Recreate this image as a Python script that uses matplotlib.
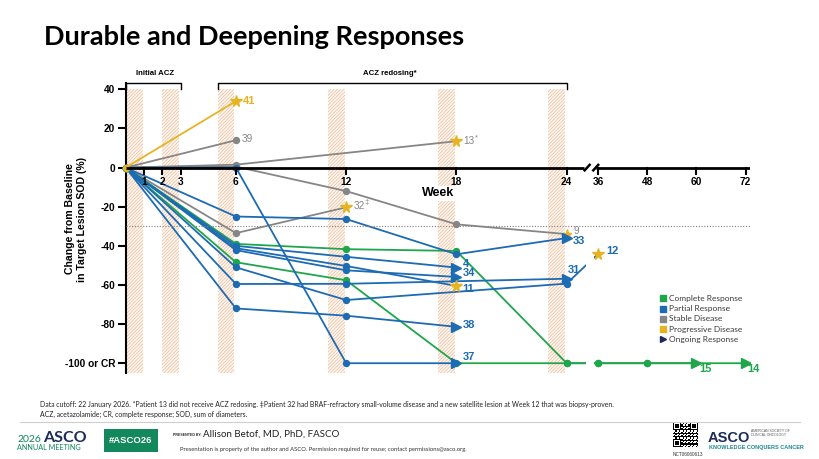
import numpy as np
import matplotlib.pyplot as plt
from matplotlib.patches import Rectangle
from matplotlib.lines import Line2D

plt.rcParams['hatch.linewidth'] = 0.55
plt.rcParams['font.family'] = ['Liberation Sans', 'DejaVu Sans']

W, H = 820, 459

GREEN = '#1ea64b'
BLUE = '#1c6bb3'
GRAY = '#868686'
GOLD = '#e6b422'
NAVY = '#1c2b5a'
ASCO_GREEN = '#12885c'

# week of assessment / % change from baseline in target lesion SOD (-100 = CR)
wk_41, chg_41 = [0, 6], [0, 34]
wk_39, chg_39 = [0, 6], [0, 14]
wk_13, chg_13 = [0, 6, 18], [0, 1.5, 13.5]
wk_32, chg_32 = [0, 6, 12], [0, -33.5, -20.3]
wk_9, chg_9 = [0, 6, 12, 18, 24], [0, 0.5, -12, -29, -34]
wk_33, chg_33 = [0, 6, 12, 18, 24], [0, -25, -26.3, -44.3, -36]
wk_4, chg_4 = [0, 6, 12, 18], [0, -40, -45.6, -51.1]
wk_11, chg_11 = [0, 6, 12, 18], [0, -41.2, -50.3, -60.5]
wk_34, chg_34 = [0, 6, 12, 18], [0, -42.2, -52.5, -55.9]
wk_31, chg_31 = [0, 6, 12, 24], [0, -59.5, -59.4, -56.8]
wk_12, chg_12 = [0, 6, 12, 24, 36], [0, -51, -67.7, -59.3, -44]
wk_38, chg_38 = [0, 6, 12, 18], [0, -72, -75.7, -81.4]
wk_37, chg_37 = [0, 6, 12, 18], [0, 0, -100, -100]
wk_14, chg_14 = [0, 6, 12, 18, 24, 36, 48, 72], [0, -48.4, -57.6, -100, -100, -100, -100, -100]
wk_15, chg_15 = [0, 6, 12, 18, 24, 36, 48, 60], [0, -39, -41.7, -42.6, -100, -100, -100, -100]

week_ticks = [1, 2, 3, 6, 12, 18, 24, 36, 48, 60, 72]
y_ticks = [40, 20, 0, -20, -40, -60, -80, -100]
y_ticklabels = ['40', '20', '0', '-20', '-40', '-60', '-80', '-100 or CR']
dosing_weeks = [(0, 1), (2, 3), (5, 6), (11, 12), (17, 18), (23, 24)]

legend_labels = ['Complete Response', 'Partial Response', 'Stable Disease',
                 'Progressive Disease', 'Ongoing Response']
legend_colors = [GREEN, BLUE, GRAY, GOLD, NAVY]
legend_markers = ['s', 's', 's', 's', '>']


def wpos(w):
    # broken x axis: linear to week 24, compressed after the break
    w = np.asarray(w, float)
    return np.where(w <= 24, w, 25.72 + (w - 36) * 0.2228)


def fx(x):
    return x / W


def fy(y):
    return 1 - y / H


fig = plt.figure(figsize=(W / 100, H / 100), dpi=100)
ax = fig.add_axes([fx(125.7), fy(373), (750 - 125.7) / W, (373 - 83.3) / H])
ax.set_xlim(0, 33.98)
ax.set_ylim(-105, 43.1)

for s, e in dosing_weeks:
    ax.add_patch(Rectangle((max(s, 0.05), -104.8), e - 0.08 - max(s, 0.05), 144.8,
                           facecolor='#fffaf6', edgecolor='#f2bc98', hatch='/' * 10,
                           lw=0, zorder=1))

ax.axhline(-30, color='#8c7f78', ls=(0, (1, 1.5)), lw=0.8, zorder=7)

# break of the axis
ax.axvspan(25.05, 25.49, color='white', lw=0, zorder=6)
ax.plot([0, 24.95], [0, 0], color='black', lw=2, zorder=7, solid_capstyle='butt')
ax.plot([25.6, 33.98], [0, 0], color='black', lw=2, zorder=7, solid_capstyle='butt')
for b in [24.98, 25.45]:
    ax.plot([b, b + 0.27], [-1.4, 1.4], color='black', lw=1.8, zorder=7)

for t in week_ticks:
    p = float(wpos(t))
    ax.plot([p, p], [0, -3.3], color='black', lw=1.5, zorder=7, clip_on=False)
    ax.text(p, -7.6, str(t), ha='center', va='center', fontsize=7.3,
            fontweight='bold', zorder=8)

ax.text(17.0, -13.1, 'Week', ha='center', va='center', fontsize=9, fontweight='bold',
        zorder=8, bbox=dict(facecolor='white', edgecolor='none', pad=1.2))

patients = [
    ('39', wk_39, chg_39, GRAY, 'o', (6, -1)),
    ('13*', wk_13, chg_13, GRAY, '*', (7, 0)),
    ('32‡', wk_32, chg_32, GRAY, '*', (7, -1)),
    ('9', wk_9, chg_9, GRAY, '*', (7, -3)),
    ('15', wk_15, chg_15, GREEN, '>', (3, 6)),
    ('14', wk_14, chg_14, GREEN, '>', (1.5, 6)),
    ('33', wk_33, chg_33, BLUE, '>', (6, 3)),
    ('4', wk_4, chg_4, BLUE, '>', (6, -3.5)),
    ('11', wk_11, chg_11, BLUE, '*', (6, 3.5)),
    ('34', wk_34, chg_34, BLUE, '>', (6, -3.5)),
    ('31', wk_31, chg_31, BLUE, '>', (1.5, -9)),
    ('12', wk_12, chg_12, BLUE, '*', (8, -2.5)),
    ('38', wk_38, chg_38, BLUE, '>', (6, -2)),
    ('37', wk_37, chg_37, BLUE, '>', (6, -6)),
    ('41', wk_41, chg_41, GOLD, '*', (7, 0)),
]

for i, (lab, wk, chg, col, end, off) in enumerate(patients):
    xs = wpos(wk)
    z = 4 + i * 0.05
    ax.plot(xs, chg, color=col, lw=1.3, zorder=z, clip_on=False)
    ax.plot(xs[:-1], chg[:-1], ls='none', marker='o', ms=4.3, color=col, zorder=z,
            clip_on=False)
    if end == '*':
        ax.plot(xs[-1], chg[-1], marker='*', ms=8.5 if lab != '9' else 6.5, color=GOLD,
                ls='none', zorder=8 if lab != '9' else z)
    elif end == '>':
        ax.plot(xs[-1], chg[-1], marker='>', ms=7, color=col, ls='none', zorder=z + 0.01)
    else:
        ax.plot(xs[-1], chg[-1], marker='o', ms=4.3, color=col, ls='none', zorder=z)
    bold = col != GRAY
    name = lab.rstrip('*‡')
    ax.annotate(name, (xs[-1], chg[-1]), xytext=(off[0] * 0.72, -off[1] * 0.72),
                textcoords='offset points', ha='left', va='center',
                fontsize=8 if bold else 7.2, fontweight='bold' if bold else 'normal',
                color=col, zorder=9)
    if lab != name:
        ax.annotate(lab[len(name):], (xs[-1], chg[-1]),
                    xytext=((off[0] + 5.6 * len(name) + 0.5) * 0.72, (-off[1] + 3.5) * 0.72),
                    textcoords='offset points', ha='left', va='center', fontsize=5.5,
                    color=col, zorder=9)

ax.set_yticks(y_ticks)
ax.set_yticklabels(y_ticklabels, fontsize=7.3, fontweight='bold')
ax.set_xticks([])
ax.tick_params(axis='y', length=6, width=1.5, pad=1.5)
for s in ['top', 'right', 'bottom']:
    ax.spines[s].set_visible(False)
ax.spines['left'].set_linewidth(1.5)
ax.set_ylabel('Change from Baseline\nin Target Lesion SOD (%)', fontsize=7.6,
              fontweight='bold', labelpad=0)
ax.yaxis.set_label_coords((87 - 125.7) / (750 - 125.7), (373 - 219) / (373 - 83.3))

# dosing brackets
for a, b, lab in [(0, 3, 'Initial ACZ'), (5, 24, 'ACZ redosing*')]:
    ax.plot([a, a, b, b], [40, 43.1, 43.1, 40], color='black', lw=1, clip_on=False,
            zorder=8)
    ax.text((a + b) / 2 + (0.1 if a == 0 else -0.1), 47.9, lab, ha='center', va='center',
            fontsize=5.6, fontweight='bold', clip_on=False)

# legend
for i, (lab, col, mk) in enumerate(zip(legend_labels, legend_colors, legend_markers)):
    y = 298.3 + i * 10.25
    fig.add_artist(Line2D([fx(663)], [fy(y)], marker=mk, color=col, ms=4.2 if mk == 's' else 5,
                          ls='none'))
    fig.text(fx(669.5), fy(y), lab, va='center', fontsize=6, color='#3a3a3a', family='Lato')

# title
fig.text(fx(44), fy(45), 'Durable and Deepening Responses', fontsize=19.5,
         fontweight='bold', family='Lato', va='baseline')

# footnotes
fig.text(fx(40), fy(404), 'Data cutoff: 22 January 2026. *Patient 13 did not receive ACZ '
         'redosing. \u2021Patient 32 had BRAF-refractory small-volume disease and a new '
         'satellite lesion at Week 12 that was biopsy-proven.',
         fontsize=4.95, family=['Lato', 'DejaVu Sans'], va='center', color='#222222')
fig.text(fx(40), fy(414.5), 'ACZ, acetazolamide; CR, complete response; SOD, sum of diameters.',
         fontsize=4.95, family='Lato', va='center', color='#222222')
fig.add_artist(Line2D([fx(20), fx(800)], [fy(422), fy(422)], color='#cfcfcf', lw=0.8))

# footer branding
fig.text(fx(17), fy(442), '2026', fontsize=7.5, color=ASCO_GREEN, family='Lato',
         va='baseline')
fig.text(fx(43), fy(442), 'ASCO', fontsize=11.5, color=NAVY, family='Lato', fontweight='bold',
         va='baseline')
fig.text(fx(17), fy(448), 'ANNUAL MEETING', fontsize=5.2, color=ASCO_GREEN, family='Lato',
         va='center')
fig.add_artist(Rectangle((fx(104), fy(452)), 54 / W, 23 / H, facecolor=ASCO_GREEN,
                         edgecolor='none'))
fig.text(fx(131), fy(440.5), '#ASCO26', fontsize=6.8, color='white', fontweight='bold',
         ha='center', va='center')
fig.text(fx(173), fy(435), 'PRESENTED BY:', fontsize=2.5, fontweight='bold', va='center',
         color='#222222')
fig.text(fx(203), fy(434), 'Allison Betof, MD, PhD, FASCO', fontsize=7, family='Lato',
         va='center', color='#222222')
fig.text(fx(180), fy(449.5), 'Presentation is property of the author and ASCO. Permission '
         'required for reuse; contact permissions@asco.org.', fontsize=4.2, family='Lato',
         va='center', color='#333333')

qr = np.zeros((21, 21))
for i in range(21):
    for j in range(21):
        qr[i, j] = (i * i + 3 * j + i * j) % 3 == 0
for r, c in [(0, 0), (0, 14), (14, 0)]:
    qr[r:r + 7, c:c + 7] = 1
    qr[r + 1:r + 6, c + 1:c + 6] = 0
    qr[r + 2:r + 5, c + 2:c + 5] = 1
qax = fig.add_axes([fx(673), fy(447), 25 / W, 24 / H])
qax.imshow(qr, cmap='gray_r', interpolation='nearest', aspect='auto')
qax.axis('off')
fig.text(fx(688), fy(454.5), 'NCT06060613', fontsize=3.4, ha='center', va='center',
         color='#333333')

fig.text(fx(708), fy(442), 'ASCO', fontsize=10.5, fontweight='bold', color=NAVY,
         va='baseline')
fig.text(fx(751), fy(431), 'AMERICAN SOCIETY OF', fontsize=2.4, color='#555555', va='center')
fig.text(fx(751), fy(435.5), 'CLINICAL ONCOLOGY', fontsize=2.4, color='#555555', va='center')
fig.text(fx(709), fy(448), 'KNOWLEDGE CONQUERS CANCER', fontsize=4, fontweight='bold',
         color='#1a8a90', va='center')

fig.savefig('out.png', dpi=100)
